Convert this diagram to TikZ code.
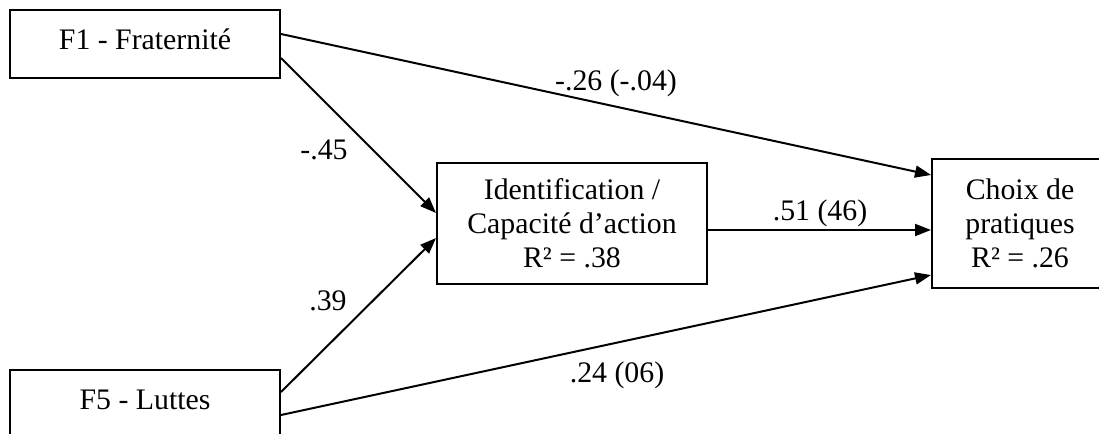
\documentclass[tikz,border=0pt]{standalone}
\usepackage{fontspec}
\setmainfont{Liberation Serif}
\usetikzlibrary{arrows.meta}
\begin{document}
\begin{tikzpicture}[x=0.5pt,y=-0.5pt,
  every node/.style={font=\fontsize{14.9pt}{17pt}\selectfont},
  box/.style={draw,line width=1pt,inner sep=0pt,align=center},
  fbox/.style={box,minimum width=135pt,minimum height=34pt,text height=10pt,text depth=5pt},
  link/.style={line width=1pt,-{Triangle[length=8pt,width=6pt]}},
  coef/.style={inner sep=0pt}]
\useasboundingbox (0,0) rectangle (1099,434);
\node[fbox] (F1) at (145,44) {F1 - Fraternité};
\node[fbox] (F5) at (145,404) {F5 - Luttes};
\node[box,minimum width=135pt,minimum height=60.5pt] (ID) at (572,223.5) {Identification /\\Capacité d’action\\R² = .38};
\node[box,minimum width=88pt,minimum height=64.5pt] (CH) at (1020,223.5) {Choix de\\pratiques\\R² = .26};
\draw[link] ([yshift=5pt]F1.east) -- ([yshift=24.25pt]CH.west);
\draw[link] ([yshift=-7pt]F1.east) -- ([yshift=5.25pt]ID.west);
\draw[link] ([yshift=6pt]F5.east) -- ([yshift=-7.25pt]ID.west);
\draw[link] ([yshift=-5.5pt]F5.east) -- ([yshift=-25.75pt]CH.west);
\draw[link] ([yshift=-3.25pt]ID.east) -- ([yshift=-3.25pt]CH.west);
\node[coef] (l1) at (616,83) {-.26 (-.04)};
\node[coef] (l2) at (324,150) {-.45};
\node[coef] (l3) at (328,301) {.39};
\node[coef] (l4) at (820,213) {.51 (46)};
\node[coef] (l5) at (617,375) {.24 (06)};
\end{tikzpicture}
\end{document}
